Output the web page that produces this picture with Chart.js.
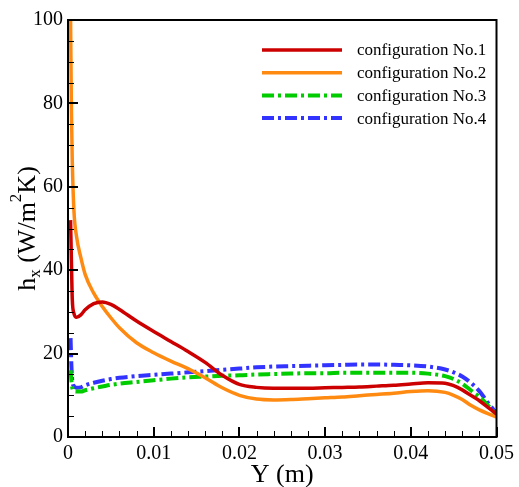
<!DOCTYPE html>
<html>
<head>
<meta charset="utf-8">
<script src="https://cdn.jsdelivr.net/npm/chart.js@4.4.0/dist/chart.umd.min.js"></script>
<style>
  body { margin: 0; background: #fff; }
  canvas { display: block; }
</style>
</head>
<body>
<canvas id="hxChart" width="519" height="487"></canvas>
<script>
// data
const positions = [0.0003, 0.0004, 0.0005, 0.0007, 0.001, 0.0015, 0.002, 0.003, 0.004, 0.005,
  0.006, 0.008, 0.01, 0.012, 0.014, 0.016, 0.018, 0.02, 0.022, 0.024,
  0.026, 0.028, 0.03, 0.032, 0.034, 0.036, 0.038, 0.04, 0.042, 0.044,
  0.045, 0.046, 0.047, 0.048, 0.049, 0.05];

const config1 = [52, 42, 33, 29.6, 28.7, 29.3, 30.5, 32, 32.4, 31.8,
  30.6, 27.8, 25.3, 22.9, 20.5, 17.9, 14.8, 12.6, 11.9, 11.7,
  11.7, 11.7, 11.8, 11.9, 12, 12.2, 12.4, 12.7, 13, 12.9,
  12.3, 11.3, 10, 8.7, 7.1, 5.5];

const config2 = [100, 78, 66, 54, 48, 43, 39, 34.5, 31.3, 28.6,
  26.2, 22.6, 20.2, 18.2, 16.4, 14.2, 11.8, 10, 9.1, 8.9,
  9, 9.2, 9.4, 9.6, 9.9, 10.2, 10.5, 10.9, 11.1, 10.7,
  10, 9, 7.6, 6.5, 5.6, 4.8];

const config3 = [16, 13.5, 11.8, 11, 10.9, 10.9, 11.2, 11.7, 12.1, 12.5,
  12.8, 13.2, 13.6, 14, 14.3, 14.5, 14.7, 14.8, 15, 15.1,
  15.2, 15.3, 15.3, 15.4, 15.4, 15.4, 15.4, 15.4, 15.2, 14.6,
  13.9, 12.8, 11.2, 9.6, 7.6, 5.3];

const config4 = [23.7, 17, 13.5, 12.2, 11.8, 11.9, 12.4, 13, 13.5, 13.9,
  14.2, 14.6, 14.9, 15.2, 15.5, 15.8, 16.1, 16.4, 16.7, 16.9,
  17, 17.1, 17.2, 17.3, 17.4, 17.4, 17.3, 17.2, 16.9, 16.2,
  15.5, 14.5, 13, 11, 8.2, 5.7];

const seriesNames = ['configuration No.1', 'configuration No.2', 'configuration No.3', 'configuration No.4'];

const xTicks = [0, 0.01, 0.02, 0.03, 0.04, 0.05];
const xTickLabels = ['0', '0.01', '0.02', '0.03', '0.04', '0.05'];
const yTicks = [0, 20, 40, 60, 80, 100];
const yTickLabels = ['0', '20', '40', '60', '80', '100'];
const xMinorStep = 0.002;
const yMinorStep = 5;

const serif = '"Liberation Serif", "Times New Roman", serif';

function toPoints(vals) {
  return positions.map(function(p, i) { return { x: p, y: vals[i] }; });
}

// Frame, inward ticks, axis titles and legend
const decorations = {
  id: 'decorations',
  afterDatasetsDraw: function(chart) {
    const ctx = chart.ctx;
    const area = chart.chartArea;
    const xs = chart.scales.x;
    const ys = chart.scales.y;
    ctx.save();
    ctx.strokeStyle = '#000';

    // minor ticks
    ctx.lineWidth = 1;
    ctx.beginPath();
    for (let v = 0; v <= 0.05 + 1e-9; v += xMinorStep) {
      const px = Math.round(xs.getPixelForValue(v)) + 0.5;
      ctx.moveTo(px, area.bottom);
      ctx.lineTo(px, area.bottom - 6);
    }
    for (let v = 0; v <= 100; v += yMinorStep) {
      const py = Math.round(ys.getPixelForValue(v)) + 0.5;
      ctx.moveTo(area.left, py);
      ctx.lineTo(area.left + 6, py);
    }
    ctx.stroke();

    // major ticks
    ctx.lineWidth = 2;
    ctx.beginPath();
    xTicks.forEach(function(v) {
      const px = Math.round(xs.getPixelForValue(v));
      ctx.moveTo(px, area.bottom);
      ctx.lineTo(px, area.bottom - 10);
    });
    yTicks.forEach(function(v) {
      const py = Math.round(ys.getPixelForValue(v));
      ctx.moveTo(area.left, py);
      ctx.lineTo(area.left + 10, py);
    });
    ctx.stroke();

    // frame
    ctx.lineWidth = 2;
    ctx.strokeRect(area.left, area.top, area.right - area.left, area.bottom - area.top);

    // x title
    ctx.fillStyle = '#000';
    ctx.font = '26px ' + serif;
    ctx.textAlign = 'center';
    ctx.textBaseline = 'alphabetic';
    ctx.fillText('Y (m)', (area.left + area.right) / 2, 482);

    // y title with subscript / superscript
    const parts = [
      { t: 'h', size: 26, dy: 0 },
      { t: 'x', size: 17, dy: 5 },
      { t: ' (W/m', size: 26, dy: 0 },
      { t: '2', size: 17, dy: -14 },
      { t: 'K)', size: 26, dy: 0 }
    ];
    let total = 0;
    parts.forEach(function(p) {
      ctx.font = p.size + 'px ' + serif;
      p.w = ctx.measureText(p.t).width;
      total += p.w;
    });
    ctx.translate(35, (area.top + area.bottom) / 2);
    ctx.rotate(-Math.PI / 2);
    ctx.textAlign = 'left';
    let cx = -total / 2;
    parts.forEach(function(p) {
      ctx.font = p.size + 'px ' + serif;
      ctx.fillText(p.t, cx, p.dy);
      cx += p.w;
    });
    ctx.setTransform(1, 0, 0, 1, 0, 0);

    // legend
    ctx.font = '17px ' + serif;
    ctx.textBaseline = 'middle';
    chart.data.datasets.forEach(function(ds, i) {
      const y = 50 + i * 22.7;
      ctx.strokeStyle = ds.borderColor;
      ctx.lineWidth = ds.borderWidth;
      ctx.setLineDash(ds.borderDash || []);
      ctx.beginPath();
      ctx.moveTo(262, y);
      ctx.lineTo(342, y);
      ctx.stroke();
      ctx.setLineDash([]);
      ctx.fillStyle = '#000';
      ctx.fillText(ds.label, 357, y + 1);
    });
    ctx.restore();
  }
};

const ctx = document.getElementById('hxChart').getContext('2d');
const hxChart = new Chart(ctx, {
  type: 'line',
  data: {
    datasets: [
      {
        label: seriesNames[0],
        data: toPoints(config1),
        borderColor: '#cc0000',
        borderWidth: 3.5
      },
      {
        label: seriesNames[1],
        data: toPoints(config2),
        borderColor: '#ff8a12',
        borderWidth: 3.5
      },
      {
        label: seriesNames[2],
        data: toPoints(config3),
        borderColor: '#00cc00',
        borderWidth: 4,
        borderDash: [12, 4, 3, 4]
      },
      {
        label: seriesNames[3],
        data: toPoints(config4),
        borderColor: '#3333ff',
        borderWidth: 4,
        borderDash: [12, 4, 3, 4]
      }
    ]
  },
  options: {
    responsive: false,
    animation: false,
    elements: {
      point: { radius: 0 },
      line: { cubicInterpolationMode: 'monotone' }
    },
    layout: { padding: { top: 20, right: 17, left: 0, bottom: 0 } },
    plugins: {
      legend: { display: false },
      tooltip: { enabled: false }
    },
    scales: {
      x: {
        type: 'linear',
        min: 0,
        max: 0.05,
        grid: { display: false, drawTicks: false },
        border: { display: false },
        afterBuildTicks: function(scale) {
          scale.ticks = xTicks.map(function(v) { return { value: v }; });
        },
        afterFit: function(scale) { scale.height = 50; },
        ticks: {
          autoSkip: false,
          maxRotation: 0,
          padding: 5,
          color: '#000',
          font: { family: serif, size: 20 },
          callback: function(value, index) { return xTickLabels[index]; }
        }
      },
      y: {
        min: 0,
        max: 100,
        grid: { display: false, drawTicks: false },
        border: { display: false },
        afterBuildTicks: function(scale) {
          scale.ticks = yTicks.map(function(v) { return { value: v }; });
        },
        afterFit: function(scale) { scale.width = 68; },
        ticks: {
          autoSkip: false,
          padding: 5,
          color: '#000',
          font: { family: serif, size: 20 },
          callback: function(value, index) { return yTickLabels[index]; }
        }
      }
    }
  },
  plugins: [decorations]
});
</script>
</body>
</html>
